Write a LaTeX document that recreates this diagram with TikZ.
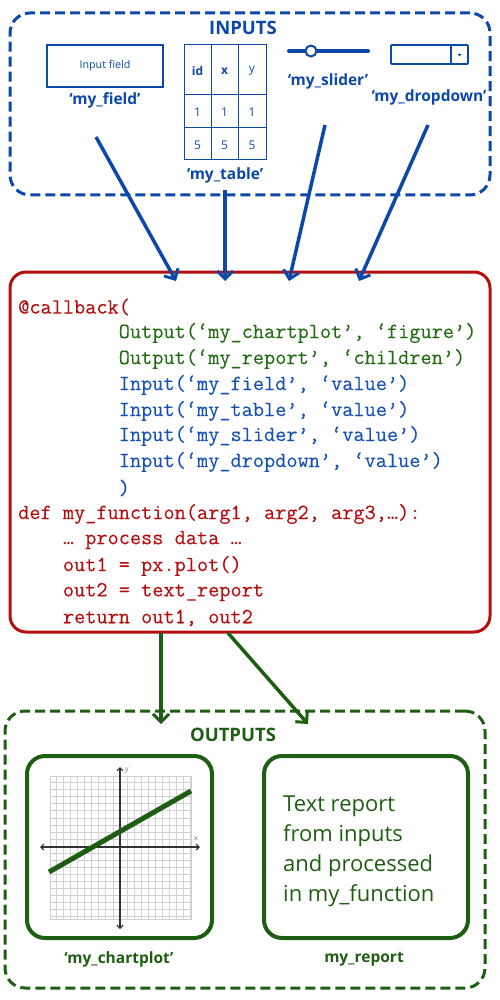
\documentclass[tikz,border=0pt]{standalone}
\usepackage{fontspec}
\setmainfont{Open Sans}
\newfontfamily\codefont{Latin Modern Mono}[FakeBold=0.2]
\usetikzlibrary{arrows.meta}
\definecolor{inblue}{RGB}{12,72,168}
\definecolor{codered}{RGB}{180,14,14}
\definecolor{outgreen}{RGB}{30,94,18}
\definecolor{codegreen}{RGB}{36,108,20}
\definecolor{codeblue}{RGB}{22,82,182}
\begin{document}
\begin{tikzpicture}[x=1pt,y=-1pt,
  grpbox/.style={draw, line width=3pt, dash pattern=on 10pt off 5pt, rounded corners=20pt},
  lbl/.style={font=\fontsize{15.5}{17}\selectfont\bfseries, inner sep=0pt},
  code/.style={anchor=west, inner sep=0pt, font=\codefont\fontsize{21.7}{24}\selectfont},
  inarrow/.style={draw=inblue, line width=3.5pt, -{Straight Barb[length=8pt,width=16pt,line width=3pt]}},
  outarrow/.style={draw=outgreen, line width=3.5pt, -{Straight Barb[length=8pt,width=16pt,line width=3pt]}},
  cell/.style={inner sep=0pt, font=\fontsize{12}{14}\selectfont, text=inblue}]
\useasboundingbox (0,0) rectangle (500,1000);

% ---------- INPUTS ----------
\node[grpbox, draw=inblue, minimum width=480pt, minimum height=182pt] (inputs) at (250,104) {};
\node[lbl, text=inblue, font=\fontsize{18.5}{20}\selectfont\bfseries] (intitle) at (243,28) {INPUTS};

% input field
\node[draw=inblue, line width=1.5pt, minimum width=116pt, minimum height=42pt, inner sep=0pt,
      font=\fontsize{10.7}{12}\selectfont, text=inblue] (field) at (105,66) {Input field};
\node[lbl, text=inblue] (fieldlbl) at (105,100) {‘my\_field’};

% table
\draw[inblue, line width=1pt] (184,45) rectangle (266,160);
\draw[inblue, line width=1pt] (211,45) -- (211,160) (238,45) -- (238,160)
  (184,95) -- (266,95) (184,128) -- (266,128);
\node[cell, font=\fontsize{12}{14}\selectfont\bfseries] (t11) at (197.5,71) {id};
\node[cell, font=\fontsize{12}{14}\selectfont\bfseries] (t12) at (224.5,71) {x};
\node[cell] (t13) at (252,71) {y};
\node[cell] (t21) at (197.5,112) {1};
\node[cell] (t22) at (224.5,112) {1};
\node[cell] (t23) at (252,112) {1};
\node[cell] (t31) at (197.5,145) {5};
\node[cell] (t32) at (224.5,145) {5};
\node[cell] (t33) at (252,145) {5};
\node[lbl, text=inblue] (tablelbl) at (225,175) {‘my\_table’};

% slider
\draw[inblue, line width=4pt, line cap=round] (289,51) -- (368,51);
\draw[inblue, line width=2pt, fill=white] (311,51) circle (5.5pt);
\node[lbl, text=inblue] (sliderlbl) at (328,81) {‘my\_slider’};

% dropdown
\draw[inblue, line width=1.8pt, rounded corners=1pt] (391,45) rectangle (468,64);
\draw[inblue, line width=1.2pt] (451,45) -- (451,64);
\fill[inblue] (457.5,54) -- (461.5,54) -- (459.5,56.5) -- cycle;
\node[lbl, text=inblue] (dropdownlbl) at (429,97) {‘my\_dropdown’};

% ---------- CODE ----------
\node[draw=codered, line width=3pt, rounded corners=16pt, minimum width=480pt, minimum height=360pt] (codebox) at (250,452) {};

\node[code, text=codered] (c1) at (18,307) {@callback(};
\node[code, text=codegreen] (c2) at (18,333) {\ \ \ \ \ \ \ \ \ Output(‘my\_chartplot’, ‘figure’)};
\node[code, text=codegreen] (c3) at (18,359) {\ \ \ \ \ \ \ \ \ Output(‘my\_report’, ‘children’)};
\node[code, text=codeblue] (c4) at (18,385) {\ \ \ \ \ \ \ \ \ Input(‘my\_field’, ‘value’)};
\node[code, text=codeblue] (c5) at (18,411) {\ \ \ \ \ \ \ \ \ Input(‘my\_table’, ‘value’)};
\node[code, text=codeblue] (c6) at (18,436) {\ \ \ \ \ \ \ \ \ Input(‘my\_slider’, ‘value’)};
\node[code, text=codeblue] (c7) at (18,462) {\ \ \ \ \ \ \ \ \ Input(‘my\_dropdown’, ‘value’)};
\node[code, text=codeblue] (c8) at (18,488) {\ \ \ \ \ \ \ \ \ )};
\node[code, text=codered] (c9) at (18,514) {def my\_function(arg1, arg2, arg3,…):};
\node[code, text=codered] (c10) at (18,540) {\ \ \ \ … process data …};
\node[code, text=codered] (c11) at (18,566) {\ \ \ \ out1 = px.plot()};
\node[code, text=codered] (c12) at (18,592) {\ \ \ \ out2 = text\_report};
\node[code, text=codered] (c13) at (18,618) {\ \ \ \ return out1, out2};

% ---------- input arrows ----------
\coordinate (s1) at (96,137);   \coordinate (e1) at (176,281);
\coordinate (s2) at (225,190);  \coordinate (e2) at (225,281);
\coordinate (s3) at (325,125);  \coordinate (e3) at (289,281);
\coordinate (s4) at (428,125);  \coordinate (e4) at (359,281);
\draw[inarrow] (s1) -- (e1);
\draw[inarrow] (s2) -- (e2);
\draw[inarrow] (s3) -- (e3);
\draw[inarrow] (s4) -- (e4);

% ---------- OUTPUTS ----------
\node[grpbox, draw=outgreen, minimum width=480pt, minimum height=277pt] (outputs) at (245,849.5) {};
\node[lbl, text=outgreen, font=\fontsize{18.5}{20}\selectfont\bfseries] (outtitle) at (233,735) {OUTPUTS};

\coordinate (o1s) at (161,633); \coordinate (o1e) at (161,724);
\coordinate (o2s) at (228,633); \coordinate (o2e) at (308,724);
\draw[outarrow] (o1s) -- (o1e);
\draw[outarrow] (o2s) -- (o2e);

% chart box
\node[draw=outgreen, line width=4pt, rounded corners=18pt, minimum width=185pt, minimum height=182pt] (chart) at (119.5,847) {};
\draw[black!18, line width=0.6pt, step=7.05pt] (50,776) grid (191,919);
\draw[black!18, line width=0.6pt] (50,776) rectangle (191,919);
\draw[black!80, line width=1.2pt, {Straight Barb[length=3pt,width=6pt]}-{Straight Barb[length=3pt,width=6pt]}] (40,847) -- (200,847);
\draw[black!80, line width=1.2pt, {Straight Barb[length=3pt,width=6pt]}-{Straight Barb[length=3pt,width=6pt]}] (120,767) -- (120,929);
\node[inner sep=0pt, text=black!55, font=\fontsize{7}{8}\selectfont] (ylab) at (127,770) {y};
\node[inner sep=0pt, text=black!55, font=\fontsize{7}{8}\selectfont] (xlab) at (196,839) {x};
\draw[outgreen, line width=5pt] (49,872) -- (191,791);
\node[lbl, text=outgreen] (chartlbl) at (119,959) {‘my\_chartplot’};

% report box
\node[draw=outgreen, line width=4pt, rounded corners=18pt, minimum width=204pt, minimum height=182pt] (report) at (366,847) {};
\node[anchor=north west, inner sep=0pt, text=outgreen, align=left, font=\fontsize{22}{30}\selectfont] (reporttext) at (283,796) {Text report\\from inputs\\and processed\\in my\_function};
\node[lbl, text=outgreen] (reportlbl) at (364,959) {my\_report};
\end{tikzpicture}
\end{document}
